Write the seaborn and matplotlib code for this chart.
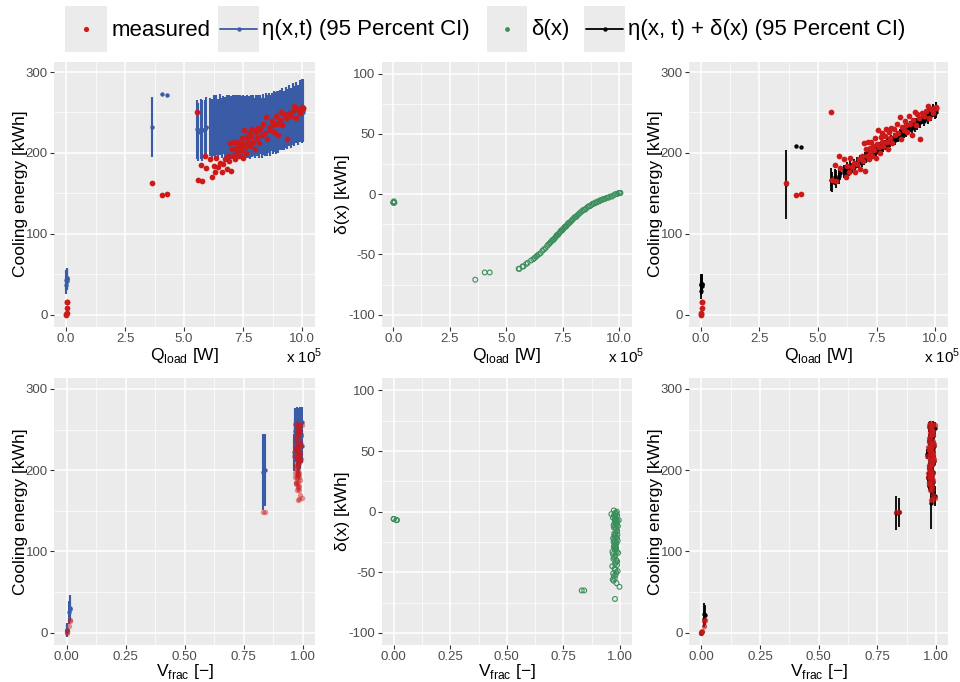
import numpy as np
import matplotlib
matplotlib.use("Agg")
import matplotlib.pyplot as plt
import seaborn as sns
from matplotlib.patches import Rectangle
from matplotlib.lines import Line2D
from matplotlib.ticker import MultipleLocator, FormatStrFormatter

# ---------------- data ----------------
# cooling load, in units of 1e5 W
q_load = [0.00, 0.01, 0.02, 0.03, 0.04, 0.05, 3.63, 4.05, 4.27,
          5.55, 5.58, 5.72, 5.76, 5.88, 5.95, 6.10, 6.20, 6.25, 6.32,
          6.37, 6.44, 6.52, 6.60, 6.66, 6.73, 6.81, 6.86, 6.91, 6.96,
          7.01, 7.05, 7.09, 7.13, 7.17, 7.21, 7.24, 7.28, 7.32, 7.36,
          7.40, 7.44, 7.48, 7.52, 7.56, 7.60, 7.64, 7.68, 7.72, 7.75,
          7.79, 7.84, 7.89, 7.94, 7.99, 8.04, 8.09, 8.13, 8.18, 8.24,
          8.30, 8.36, 8.42, 8.48, 8.53, 8.59, 8.65, 8.71, 8.77, 8.82,
          8.88, 8.94, 9.00, 9.06, 9.12, 9.17, 9.23, 9.30, 9.37, 9.45,
          9.52, 9.60, 9.68, 9.75, 9.83, 9.91, 9.98, 10.02, 10.04, 10.05]
v_frac = [0.000, 0.000, 0.001, 0.012, 0.013, 0.014, 0.978, 0.831, 0.842,
          0.975, 0.998, 0.972, 0.985, 0.968, 0.981, 0.977, 0.990, 0.973, 0.983,
          0.979, 0.970, 0.987, 0.976, 0.982, 0.966, 0.984, 0.978, 0.974, 0.988,
          0.980, 0.971, 0.986, 0.977, 0.983, 0.969, 0.979, 0.992, 0.975, 0.981,
          0.973, 0.985, 0.978, 0.990, 0.967, 0.982, 0.976, 0.987, 0.980, 0.972,
          0.984, 0.977, 0.989, 0.974, 0.981, 0.970, 0.986, 0.978, 0.983, 0.975,
          0.979, 0.988, 0.972, 0.984, 0.977, 0.991, 0.980, 0.973, 0.985, 0.978,
          0.982, 0.969, 0.987, 0.976, 0.983, 0.974, 0.989, 0.979, 0.962, 0.985,
          0.977, 0.981, 0.975, 0.986, 0.979, 0.983, 0.973, 0.988, 0.980, 0.995]
measured = [0, 1, 2, 8, 15, 16, 163, 148, 149,
            251, 166, 185, 165, 196, 181, 192, 170, 184, 176,
            194, 183, 188, 176, 186, 192, 180, 196, 190, 212,
            178, 205, 196, 213, 192, 206, 200, 214, 196, 209,
            203, 218, 194, 211, 228, 207, 200, 220, 213, 225,
            209, 221, 230, 214, 205, 226, 218, 231, 212, 229,
            222, 236, 225, 244, 217, 232, 228, 240, 234, 226,
            246, 236, 222, 241, 250, 234, 248, 243, 217, 249,
            246, 252, 258, 243, 254, 249, 256, 257, 255, 256]
# model fitted against Q_load
eta_q = [36, 43, 45, 44, 42, 45, 232, 273, 272,
         229, 226, 230, 228, 229, 232, 232, 230, 234, 231,
         234, 231, 235, 231, 234, 232, 234, 231, 234, 231,
         234, 230, 234, 235, 231, 234, 231, 235, 231, 234,
         231, 234, 231, 234, 231, 234, 231, 234, 231, 234,
         231, 234, 231, 234, 231, 234, 232, 235, 232, 235,
         231, 235, 232, 237, 234, 237, 234, 238, 235, 239,
         237, 240, 238, 241, 239, 242, 240, 244, 242, 246,
         243, 248, 246, 250, 247, 252, 249, 253, 250, 253]
eta_q_ci = [11, 12, 13, 12, 12, 13, 37, 1, 1,
            37, 36, 37, 38, 36, 37, 36, 37, 38, 36,
            37, 36, 38, 37, 36, 37, 38, 36, 37, 38,
            36, 37, 38, 37, 36, 38, 37, 36, 37, 38,
            37, 36, 38, 37, 38, 36, 37, 38, 37, 36,
            38, 37, 36, 38, 37, 38, 36, 37, 38, 37,
            37, 38, 36, 37, 38, 37, 38, 36, 37, 38,
            38, 37, 38, 37, 36, 38, 37, 38, 37, 38,
            37, 38, 37, 38, 37, 38, 37, 38, 37, 38]
delta_q = [-7, -7, -7, -6, -7, -7, -71, -65, -65,
           -62, -62, -60, -60, -58, -57, -55, -54, -53, -52,
           -51, -50, -49, -47, -46, -45, -43, -42, -41, -40,
           -39, -38, -38, -37, -36, -35, -34, -34, -33, -32,
           -31, -30, -30, -29, -28, -27, -27, -26, -25, -24,
           -24, -23, -22, -21, -20, -19, -19, -18, -17, -16,
           -15, -14, -13, -13, -12, -11, -10, -10, -9, -8,
           -8, -7, -7, -6, -6, -5, -5, -4, -4, -3,
           -3, -2, -2, -1, 0, 0, 1, 1, 1, 1]
pred_q = [29, 36, 38, 38, 35, 38, 161, 208, 207,
          167, 164, 170, 168, 171, 175, 177, 176, 181, 179,
          183, 181, 186, 184, 188, 187, 191, 189, 193, 191,
          195, 192, 196, 198, 195, 199, 197, 201, 198, 202,
          200, 204, 201, 205, 203, 207, 204, 208, 206, 210,
          207, 211, 209, 213, 211, 215, 213, 217, 215, 219,
          216, 221, 219, 224, 222, 226, 224, 228, 226, 231,
          229, 233, 231, 235, 233, 237, 235, 240, 238, 243,
          240, 246, 244, 249, 247, 252, 250, 254, 251, 254]
pred_q_ci = [10, 12, 12, 11, 10, 12, 43, 1, 1,
             14, 12, 10, 11, 9, 8, 8, 7, 8, 7,
             7, 6, 7, 6, 7, 6, 6, 7, 6, 6,
             6, 5, 6, 6, 5, 6, 5, 6, 5, 6,
             5, 6, 5, 6, 5, 6, 5, 6, 5, 6,
             6, 5, 6, 5, 6, 5, 6, 5, 6, 6,
             6, 6, 5, 6, 6, 6, 5, 6, 6, 6,
             6, 7, 6, 6, 7, 6, 7, 6, 7, 7,
             7, 7, 8, 7, 8, 8, 8, 9, 8, 9]
# model fitted against V_frac
eta_v = [3, 3, 4, 25, 30, 29, 232, 198, 200,
         256, 230, 239, 227, 248, 235, 244, 222, 234, 228,
         239, 236, 230, 226, 230, 235, 222, 236, 230, 249,
         217, 241, 231, 247, 224, 239, 232, 245, 226, 239,
         233, 241, 228, 233, 257, 235, 232, 239, 240, 247,
         231, 244, 246, 236, 225, 246, 233, 248, 227, 244,
         234, 249, 235, 254, 228, 242, 235, 250, 242, 232,
         251, 240, 234, 243, 253, 236, 253, 246, 222, 252,
         248, 250, 257, 242, 256, 249, 252, 257, 253, 259]
eta_v_ci = [8, 8, 8, 14, 16, 15, 25, 47, 44,
            22, 21, 23, 22, 21, 22, 23, 21, 22, 23,
            21, 22, 23, 22, 21, 23, 22, 21, 22, 23,
            22, 23, 21, 22, 23, 22, 21, 23, 22, 21,
            23, 22, 21, 22, 20, 23, 22, 21, 22, 23,
            22, 21, 23, 22, 21, 22, 23, 21, 22, 23,
            21, 22, 23, 21, 22, 23, 22, 21, 22, 23,
            22, 23, 21, 22, 23, 22, 21, 22, 23, 22,
            23, 22, 21, 22, 21, 22, 23, 21, 22, 19]
delta_v = [-6, -6, -6, -7, -7, -7, -72, -65, -65,
           -20, -62, -57, -59, -56, -52, -55, -49, -53, -50,
           -48, -51, -44, -47, -42, -45, -40, -43, -38, -41,
           -36, -39, -33, -37, -30, -35, -31, -34, -28, -32,
           -29, -26, -31, -24, -33, -27, -30, -22, -28, -25,
           -21, -25, -19, -23, -18, -22, -16, -20, -14, -18,
           -13, -16, -11, -14, -9, -12, -8, -13, -10, -6,
           -9, -5, -11, -4, -7, -3, -8, -5, -2, -6,
           -4, -1, -3, 0, -5, -2, 1, -3, -1, -7]
pred_v = [0, 0, 1, 17, 23, 22, 160, 147, 148,
          236, 168, 182, 168, 192, 183, 189, 173, 181, 178,
          191, 185, 186, 179, 188, 190, 182, 193, 192, 208,
          181, 202, 198, 210, 194, 204, 201, 211, 198, 207,
          204, 215, 197, 209, 224, 208, 202, 217, 212, 222,
          210, 219, 227, 213, 207, 224, 217, 228, 213, 226,
          221, 233, 224, 240, 219, 230, 227, 237, 232, 226,
          242, 235, 223, 239, 246, 233, 245, 241, 220, 246,
          244, 249, 254, 242, 251, 247, 253, 254, 252, 252]
pred_v_ci = [3, 3, 3, 10, 14, 12, 32, 21, 18,
             7, 12, 6, 7, 6, 5, 6, 7, 5, 6,
             5, 6, 5, 6, 5, 6, 5, 6, 5, 6,
             6, 5, 6, 5, 6, 5, 6, 5, 6, 5,
             5, 6, 5, 6, 5, 6, 5, 6, 5, 6,
             6, 5, 6, 5, 6, 5, 6, 5, 6, 5,
             5, 6, 5, 6, 5, 6, 5, 6, 5, 6,
             6, 5, 6, 5, 6, 5, 6, 5, 6, 5,
             6, 7, 6, 7, 6, 7, 6, 7, 6, 7]

legend_labels = ["measured", "\u03b7(x,t) (95 Percent CI)", "\u03b4(x)",
                 "\u03b7(x, t) + \u03b4(x) (95 Percent CI)"]

# ---------------- style ----------------
sns.set_theme(style="darkgrid")
plt.rcParams["font.family"] = ["Liberation Sans", "DejaVu Sans"]
plt.rcParams["mathtext.fontset"] = "custom"
plt.rcParams["mathtext.rm"] = "Liberation Sans"
plt.rcParams["axes.unicode_minus"] = True

RED = "#CC1A1A"
BLUE = "#3A5BA6"
GREEN = "#3B8F5C"
BLACK = "#000000"

W, H = 960, 682
fig = plt.figure(figsize=(W / 100, H / 100), dpi=100)


def rect(x0, y0, x1, y1):
    return [x0 / W, 1 - y1 / H, (x1 - x0) / W, (y1 - y0) / H]


def style(ax, xmaj, xfmt, ymaj, yfmt, xlim, ylim):
    ax.set_facecolor("#EBEBEB")
    for s in ax.spines.values():
        s.set_visible(False)
    ax.set_xlim(*xlim)
    ax.set_ylim(*ylim)
    ax.xaxis.set_major_locator(MultipleLocator(xmaj))
    ax.xaxis.set_minor_locator(MultipleLocator(xmaj / 2))
    ax.yaxis.set_major_locator(MultipleLocator(ymaj))
    ax.yaxis.set_minor_locator(MultipleLocator(ymaj / 2))
    ax.xaxis.set_major_formatter(FormatStrFormatter(xfmt))
    ax.yaxis.set_major_formatter(FormatStrFormatter(yfmt))
    ax.grid(which="major", color="white", lw=1.1)
    ax.grid(which="minor", color="white", lw=0.5)
    ax.tick_params(which="major", length=3, width=0.8, color="#333333",
                   labelsize=9.5, labelcolor="#4D4D4D", pad=1.5,
                   bottom=True, left=True)
    ax.tick_params(which="minor", length=0)
    ax.set_axisbelow(True)


q = np.array(q_load)
v = np.array(v_frac)
meas = np.array(measured)

XQ = (-0.51, 10.55)
XV = (-0.053, 1.052)
YE = (-15, 313)
YD = (-110, 110)

ax1 = fig.add_axes(rect(54, 61.5, 315, 326.7))
ax2 = fig.add_axes(rect(381.7, 61.5, 631.7, 326.7))
ax3 = fig.add_axes(rect(689, 61.5, 948, 326.7))
ax4 = fig.add_axes(rect(54, 378.3, 315, 645))
ax5 = fig.add_axes(rect(381.7, 378.3, 631.7, 645))
ax6 = fig.add_axes(rect(689, 378.3, 948, 645))

style(ax1, 2.5, "%.1f", 100, "%d", XQ, YE)
style(ax2, 2.5, "%.1f", 50, "%d", XQ, YD)
style(ax3, 2.5, "%.1f", 100, "%d", XQ, YE)
style(ax4, 0.25, "%.2f", 100, "%d", XV, YE)
style(ax5, 0.25, "%.2f", 50, "%d", XV, YD)
style(ax6, 0.25, "%.2f", 100, "%d", XV, YE)

# panel 1: eta vs Q
e = np.array(eta_q); ec = np.array(eta_q_ci)
ax1.vlines(q, e - ec, e + ec, color=BLUE, lw=1.5, zorder=2)
sns.scatterplot(x=q, y=e, ax=ax1, color=BLUE, s=10, linewidth=0, legend=False,
                zorder=3)
sns.scatterplot(x=q, y=meas, ax=ax1, color=RED, s=17, linewidth=0, legend=False,
                zorder=4)

# panel 2: delta vs Q
sns.scatterplot(x=q, y=np.array(delta_q), ax=ax2, marker="o", facecolor="none",
                edgecolor=GREEN, s=12, linewidth=0.8, legend=False, zorder=3)

# panel 3: eta+delta vs Q
p = np.array(pred_q); pc = np.array(pred_q_ci)
ax3.vlines(q, p - pc, p + pc, color=BLACK, lw=1.3, zorder=2)
sns.scatterplot(x=q, y=p, ax=ax3, color=BLACK, s=10, linewidth=0, legend=False,
                zorder=3)
sns.scatterplot(x=q, y=meas, ax=ax3, color=RED, s=17, linewidth=0, legend=False,
                zorder=4)

# panel 4: eta vs V
e = np.array(eta_v); ec = np.array(eta_v_ci)
ax4.vlines(v, e - ec, e + ec, color=BLUE, lw=1.5, zorder=2)
sns.scatterplot(x=v, y=e, ax=ax4, color=BLUE, s=10, linewidth=0, legend=False,
                zorder=3)
sns.scatterplot(x=v, y=meas, ax=ax4, color=RED, s=15, linewidth=0, alpha=0.45,
                legend=False, zorder=4)

# panel 5: delta vs V
sns.scatterplot(x=v, y=np.array(delta_v), ax=ax5, marker="o", facecolor="none",
                edgecolor=GREEN, s=12, linewidth=0.8, legend=False, zorder=3)

# panel 6: eta+delta vs V
p = np.array(pred_v); pc = np.array(pred_v_ci)
ax6.vlines(v, p - pc, p + pc, color=BLACK, lw=1.3, zorder=2)
sns.scatterplot(x=v, y=p, ax=ax6, color=BLACK, s=10, linewidth=0, legend=False,
                zorder=3)
sns.scatterplot(x=v, y=meas, ax=ax6, color=RED, s=15, linewidth=0, alpha=0.7,
                legend=False, zorder=4)

qlab = "Q$_\\mathregular{load}$ [W]"
vlab = "V$_\\mathregular{frac}$ [\u2212]"
for ax in (ax1, ax3, ax4, ax6):
    ax.set_ylabel("Cooling energy [kWh]", fontsize=12.5, color="black")
for ax in (ax2, ax5):
    ax.set_ylabel("\u03b4(x) [kWh]", fontsize=12.5, color="black")
for ax in (ax1, ax2, ax3):
    ax.set_xlabel(qlab, fontsize=12.5, color="black")
for ax in (ax4, ax5, ax6):
    ax.set_xlabel(vlab, fontsize=12.5, color="black")

ylab_x = {ax1: -0.13, ax2: -0.155, ax3: -0.131, ax4: -0.13, ax5: -0.155, ax6: -0.131}
for ax, xx in ylab_x.items():
    ax.yaxis.set_label_coords(xx, 0.5)
    ax.yaxis.label.set_va("center")
    ax.xaxis.label.set_va("center")
for ax in (ax1, ax2, ax3):
    ax.xaxis.set_label_coords(0.5, -0.11)
for ax in (ax4, ax5, ax6):
    ax.xaxis.set_label_coords(0.5, -0.099)

for ax, xr in ((ax1, 1.03), (ax2, 1.053), (ax3, 1.05)):
    ax.text(xr, -0.11, "x 10$^\\mathregular{5}$", transform=ax.transAxes,
            ha="right", va="center", fontsize=11, color="black")

# ---------------- legend strip ----------------
lax = fig.add_axes([0, 1 - 58 / H, 1, 58 / H])
lax.set_xlim(0, W)
lax.set_ylim(58, 0)
lax.axis("off")
keys = [(65, 107), (218, 259), (487, 527), (584, 625)]
for (x0, x1) in keys:
    lax.add_patch(Rectangle((x0, 6), x1 - x0, 46, facecolor="#EBEBEB",
                            edgecolor="none"))
lax.scatter([86], [29], s=14, color=RED, linewidth=0)
lax.add_line(Line2D([220, 257], [29, 29], color=BLUE, lw=1.3))
lax.scatter([238.5], [29], s=10, color=BLUE, linewidth=0)
lax.scatter([507], [29], s=12, color=GREEN, linewidth=0)
lax.add_line(Line2D([586, 623], [29, 29], color=BLACK, lw=1.3))
lax.scatter([604.5], [29], s=10, color=BLACK, linewidth=0)
text_x = [112, 262, 531, 628]
for tx, lab in zip(text_x, legend_labels):
    lax.text(tx, 30, lab, fontsize=16, va="center", ha="left", color="black")

fig.savefig("out.png", dpi=100)
